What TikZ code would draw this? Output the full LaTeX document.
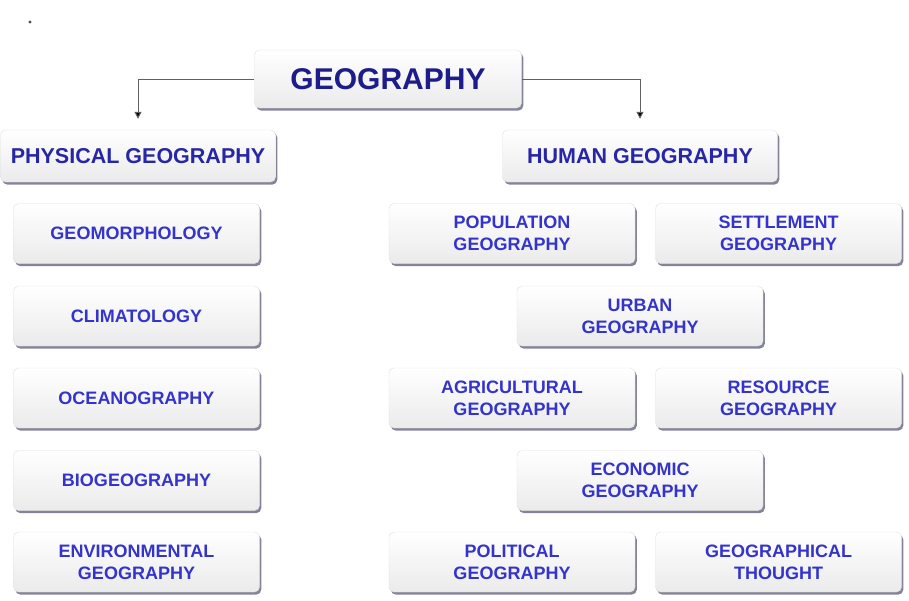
\documentclass[tikz,border=0pt]{standalone}
\usepackage{fontspec}
\setmainfont{Liberation Sans}
\usetikzlibrary{calc, positioning, shadows, arrows.meta}
\definecolor{titleblue}{HTML}{1C1C8A}
\definecolor{branchblue}{HTML}{2626A6}
\definecolor{itemblue}{HTML}{3434CC}
\definecolor{shadowgray}{HTML}{5A5A78}
\tikzstyle{card}=[rounded corners=5pt, draw=gray!25, top color=white, bottom color=gray!16, align=center,
  drop shadow={shadow xshift=1.8pt, shadow yshift=-2.6pt, fill=shadowgray, opacity=0.75}]
\tikzstyle{title}=[card, text=titleblue, font=\bfseries\fontsize{30}{34}\selectfont, minimum width=267pt, minimum height=58pt]
\tikzstyle{branch}=[card, text=branchblue, font=\bfseries\fontsize{21.5}{25}\selectfont, minimum width=275pt, minimum height=52pt]
\tikzstyle{topic}=[card, text=itemblue, font=\bfseries\fontsize{18}{22}\selectfont, minimum width=246pt, minimum height=60pt]
\tikzstyle{link}=[draw=gray!75!black, line width=1pt, -{Triangle[length=7pt,width=7pt,fill=black]}, shorten >=11pt]

\begin{document}
\begin{tikzpicture}[x=1pt, y=-1pt]
			\useasboundingbox (0,0) rectangle (909,600);
			\fill[gray!60!black] (30,22) circle (1.6pt);

			\node[title] (geo) at (388,79) {GEOGRAPHY};
			\node[branch] (phys) at (138,156) {PHYSICAL GEOGRAPHY};
			\node[branch] (human) at (640,156) {HUMAN GEOGRAPHY};

			% physical side
			\node[topic] (geomorph) at (136.5,233.5) {GEOMORPHOLOGY};
			\node[topic] (clima) at (136.5,316) {CLIMATOLOGY};
			\node[topic] (ocean) at (136.5,398) {OCEANOGRAPHY};
			\node[topic] (bio) at (136.5,480.5) {BIOGEOGRAPHY};
			\node[topic] (env) at (136.5,562) {ENVIRONMENTAL\\GEOGRAPHY};

			% human side
			\node[topic] (pop) at (512,233.5) {POPULATION\\GEOGRAPHY};
			\node[topic] (settle) at (778.5,233.5) {SETTLEMENT\\GEOGRAPHY};
			\node[topic] (urban) at (640,316) {URBAN\\GEOGRAPHY};
			\node[topic] (agri) at (512,398) {AGRICULTURAL\\GEOGRAPHY};
			\node[topic] (res) at (778.5,398) {RESOURCE\\GEOGRAPHY};
			\node[topic] (econ) at (640,480.5) {ECONOMIC\\GEOGRAPHY};
			\node[topic] (pol) at (512,562) {POLITICAL\\GEOGRAPHY};
			\node[topic] (thought) at (778.5,562) {GEOGRAPHICAL\\THOUGHT};

			\draw[link] (geo.west) -| (phys.north);
			\draw[link] (geo.east) -| (human.north);
		\end{tikzpicture}
\end{document}
